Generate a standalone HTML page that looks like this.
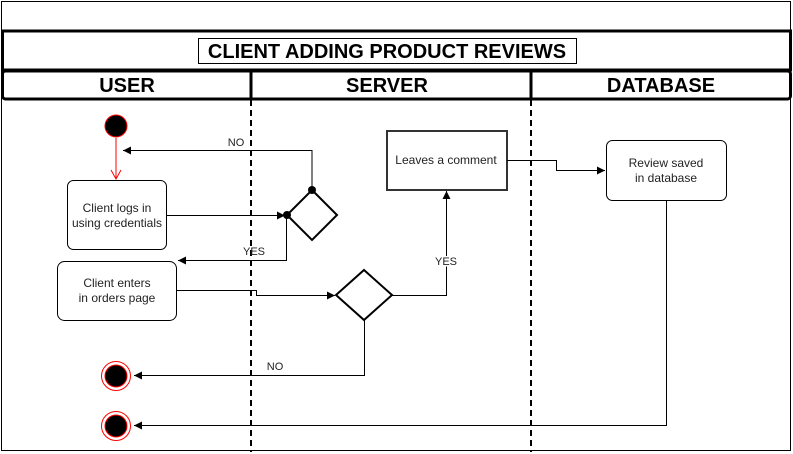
<!DOCTYPE html>
<html><head><style>
html,body{margin:0;padding:0;background:#fff;width:793px;height:454px;overflow:hidden}
svg{display:block}
text{font-family:"Liberation Sans",Arial,sans-serif}
</style></head><body>
<svg width="793" height="454" viewBox="0 0 793 454" xmlns="http://www.w3.org/2000/svg">
<defs>
<marker id="a" markerWidth="10" markerHeight="10" refX="9" refY="5" orient="auto" markerUnits="userSpaceOnUse"><path d="M1,1 L9,5 L1,9 Z" fill="#000"/></marker>
<marker id="r" markerWidth="12" markerHeight="12" refX="10" refY="6" orient="auto" markerUnits="userSpaceOnUse"><path d="M1,1 L10,6 L1,11" fill="none" stroke="#f00" stroke-width="1"/></marker>
</defs>
<rect x="1.5" y="1.5" width="789" height="449" fill="#fff" stroke="#000" stroke-width="1"/>
<rect x="2.5" y="31" width="788" height="39" fill="#fff" stroke="#000" stroke-width="3"/>
<rect x="198.5" y="38.5" width="378" height="25" fill="#fff" stroke="#000" stroke-width="1"/>
<text x="387" y="58" font-size="20" font-weight="bold" text-anchor="middle">CLIENT ADDING PRODUCT REVIEWS</text>
<rect x="2.5" y="71" width="788" height="28" rx="3" fill="#fff" stroke="#000" stroke-width="3"/>
<line x1="251" y1="71" x2="251" y2="99" stroke="#000" stroke-width="3"/>
<line x1="531" y1="71" x2="531" y2="99" stroke="#000" stroke-width="3"/>
<text x="127" y="92" font-size="20" font-weight="bold" text-anchor="middle">USER</text>
<text x="387" y="92" font-size="20" font-weight="bold" text-anchor="middle">SERVER</text>
<text x="661" y="92" font-size="20" font-weight="bold" text-anchor="middle">DATABASE</text>
<line x1="251" y1="100" x2="251" y2="452" stroke="#000" stroke-width="2" stroke-dasharray="6,4"/>
<line x1="531" y1="100" x2="531" y2="452" stroke="#000" stroke-width="2" stroke-dasharray="6,4"/>

<circle cx="116" cy="126" r="11" fill="#000" stroke="#f00" stroke-width="1"/>
<line x1="116" y1="138" x2="116" y2="179" stroke="#f00" stroke-width="1" marker-end="url(#r)"/>

<rect x="67.5" y="180.5" width="99" height="69" rx="6" fill="#fff" stroke="#000"/>
<text x="117" y="212" font-size="12" text-anchor="middle" fill="#222">Client logs in</text>
<text x="117" y="227" font-size="12" text-anchor="middle" fill="#222">using credentials</text>

<polygon points="312,190 337,215 312,240 287,215" fill="#fff" stroke="#000" stroke-width="2"/>
<circle cx="312" cy="190" r="4" fill="#000"/>
<circle cx="287" cy="215" r="4" fill="#000"/>
<line x1="166" y1="215.5" x2="285" y2="215.5" stroke="#000" marker-end="url(#a)"/>
<polyline points="312,190 312,150.5 123,150.5" fill="none" stroke="#000" marker-end="url(#a)"/>
<text x="236" y="146" font-size="11" text-anchor="middle" fill="#222">NO</text>
<polyline points="286.5,215 286.5,260.5 178,260.5" fill="none" stroke="#000" marker-end="url(#a)"/>
<text x="254" y="255" font-size="11" text-anchor="middle" fill="#222">YES</text>

<rect x="57.5" y="261.5" width="119" height="59" rx="7" fill="#fff" stroke="#000"/>
<text x="117" y="287" font-size="12" text-anchor="middle" fill="#222">Client enters</text>
<text x="117" y="302" font-size="12" text-anchor="middle" fill="#222">in orders page</text>
<polyline points="176,290.5 256.5,290.5 256.5,295.5 335,295.5" fill="none" stroke="#000" marker-end="url(#a)"/>

<polygon points="364,270 392,295 364,320 336,295" fill="#fff" stroke="#000" stroke-width="2"/>
<polyline points="392,295.5 446.5,295.5 446.5,191" fill="none" stroke="#000" marker-end="url(#a)"/>
<text x="446" y="265" font-size="11" text-anchor="middle" fill="#222" style="paint-order:stroke" stroke="#fff" stroke-width="3">YES</text>
<polyline points="364.5,320 364.5,375.5 134,375.5" fill="none" stroke="#000" marker-end="url(#a)"/>
<text x="275" y="370" font-size="11" text-anchor="middle" fill="#222">NO</text>

<rect x="387" y="131" width="120" height="59" fill="#fff" stroke="#333" stroke-width="2"/>
<text x="446" y="164" font-size="12" text-anchor="middle" fill="#222">Leaves a comment</text>
<polyline points="507,160.5 556.5,160.5 556.5,170.5 605,170.5" fill="none" stroke="#000" marker-end="url(#a)"/>

<rect x="606.5" y="140.5" width="120" height="60" rx="6" fill="#fff" stroke="#000"/>
<text x="666" y="167" font-size="12" text-anchor="middle" fill="#222">Review saved</text>
<text x="666" y="182" font-size="12" text-anchor="middle" fill="#222">in database</text>
<polyline points="666.5,200 666.5,425.5 134,425.5" fill="none" stroke="#000" marker-end="url(#a)"/>

<circle cx="116" cy="376" r="14.5" fill="#fff" stroke="#f00" stroke-width="1"/>
<circle cx="116" cy="376" r="11" fill="#000" stroke="#f00" stroke-width="1"/>
<circle cx="116" cy="426" r="14.5" fill="#fff" stroke="#f00" stroke-width="1"/>
<circle cx="116" cy="426" r="11" fill="#000" stroke="#f00" stroke-width="1"/>
</svg>
</body></html>
